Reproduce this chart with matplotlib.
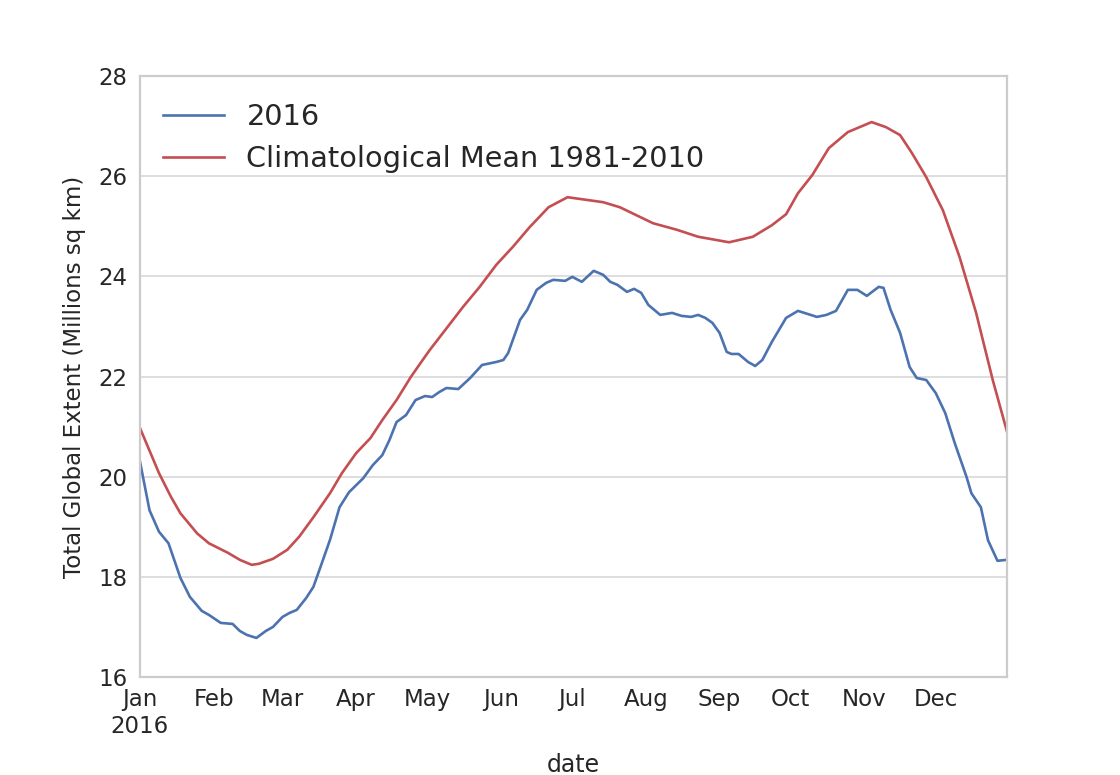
import matplotlib
matplotlib.use("Agg")
import matplotlib.pyplot as plt
import pandas as pd

# ---- data (days since 2016-01-01, values in millions sq km) ----
days_2016 = [0, 4, 8, 12, 17, 21, 26, 29, 34, 39, 42, 45, 49, 53, 56, 60, 63, 66,
             70, 73, 76, 80, 84, 88, 94, 98, 102, 105, 108, 112, 116, 120, 123,
             126, 129, 134, 139, 144, 150, 153, 155, 160, 163, 167, 171, 174, 179,
             182, 186, 191, 195, 198, 201, 205, 208, 211, 214, 219, 224, 228, 232,
             235, 238, 241, 244, 247, 249, 252, 256, 259, 262, 266, 272, 277, 285,
             289, 293, 298, 302, 306, 311, 313, 316, 320, 324, 327, 331, 335, 339,
             343, 348, 350, 354, 357, 361, 365]
extent_2016 = [20.30, 19.33, 18.90, 18.67, 17.98, 17.60, 17.32, 17.24, 17.08, 17.06,
               16.92, 16.84, 16.78, 16.92, 17.00, 17.20, 17.28, 17.34, 17.58, 17.80,
               18.20, 18.74, 19.39, 19.69, 19.97, 20.23, 20.43, 20.73, 21.09, 21.23,
               21.53, 21.61, 21.59, 21.69, 21.77, 21.75, 21.97, 22.23, 22.29, 22.33,
               22.47, 23.13, 23.33, 23.73, 23.87, 23.93, 23.91, 23.99, 23.89, 24.11,
               24.03, 23.89, 23.83, 23.69, 23.75, 23.67, 23.43, 23.23, 23.27, 23.21,
               23.19, 23.23, 23.17, 23.07, 22.87, 22.49, 22.45, 22.45, 22.29, 22.21,
               22.33, 22.69, 23.17, 23.31, 23.19, 23.23, 23.31, 23.73, 23.73, 23.61,
               23.79, 23.77, 23.33, 22.87, 22.19, 21.97, 21.93, 21.67, 21.27, 20.67,
               19.99, 19.67, 19.39, 18.73, 18.32, 18.34]

days_mean = [0, 8, 13, 17, 24, 29, 37, 42, 47, 50, 56, 62, 67, 73, 80, 85, 91, 97,
             102, 108, 114, 119, 122, 136, 143, 150, 157, 164, 172, 180, 195, 202,
             216, 226, 235, 248, 258, 266, 272, 277, 283, 290, 298, 308, 314, 320,
             325, 331, 338, 345, 352, 359, 365]
extent_mean = [20.97, 20.07, 19.60, 19.27, 18.87, 18.67, 18.48, 18.34, 18.24, 18.26,
               18.36, 18.54, 18.80, 19.19, 19.67, 20.07, 20.47, 20.77, 21.13, 21.53,
               21.99, 22.33, 22.53, 23.39, 23.79, 24.23, 24.59, 24.98, 25.38, 25.58,
               25.48, 25.38, 25.06, 24.93, 24.79, 24.68, 24.79, 25.02, 25.24, 25.66,
               26.02, 26.56, 26.88, 27.08, 26.98, 26.82, 26.46, 25.98, 25.32, 24.39,
               23.27, 21.93, 20.90]

series_labels = ["2016", "Climatological Mean 1981-2010"]
month_labels = ["Jan\n2016", "Feb", "Mar", "Apr", "May", "Jun", "Jul", "Aug",
                "Sep", "Oct", "Nov", "Dec"]
y_ticks = [16, 18, 20, 22, 24, 26, 28]

start = pd.Timestamp("2016-01-01")
dates_2016 = start + pd.to_timedelta(days_2016, unit="D")
dates_mean = start + pd.to_timedelta(days_mean, unit="D")

text_color = "#262626"
plt.rcParams["font.family"] = ["DejaVu Sans"]

fig = plt.figure(figsize=(11.2, 7.75), dpi=100)
ax = fig.add_axes([0.125, 1 - 677 / 775, (1007 - 140) / 1120, (677 - 76) / 775])

ax.plot(dates_2016, extent_2016, color="#4c72b0", lw=1.9, label=series_labels[0])
ax.plot(dates_mean, extent_mean, color="#c44e52", lw=1.9, label=series_labels[1])

ax.set_xlim(start, pd.Timestamp("2016-12-31"))
ax.set_ylim(16, 28)
ax.set_yticks(y_ticks)
ax.set_yticklabels([str(t) for t in y_ticks])

month_starts = pd.date_range("2016-01-01", periods=12, freq="MS")
ax.set_xticks(month_starts)
ax.set_xticklabels(month_labels)

ax.grid(axis="y", color="#d4d4d4", lw=1.1)
ax.grid(axis="x", visible=False)
ax.set_axisbelow(True)
for s in ax.spines.values():
    s.set_color("#cccccc")
    s.set_linewidth(1.6)

ax.tick_params(axis="both", length=0, labelsize=16.5, colors=text_color, pad=9)
ax.tick_params(axis="x", pad=8)

ax.set_xlabel("date", fontsize=17, color=text_color, labelpad=11)
ax.set_ylabel("Total Global Extent (Millions sq km)", fontsize=16.5, color=text_color,
              labelpad=9)

leg = ax.legend(loc="upper left", bbox_to_anchor=(3 / 867, 1 - 7 / 601),
                frameon=False, fontsize=20.7, handlelength=2.1,
                handletextpad=0.8, borderaxespad=0.3, labelspacing=0.48)
for t in leg.get_texts():
    t.set_color(text_color)

fig.savefig("out.png", dpi=100, facecolor="white")
